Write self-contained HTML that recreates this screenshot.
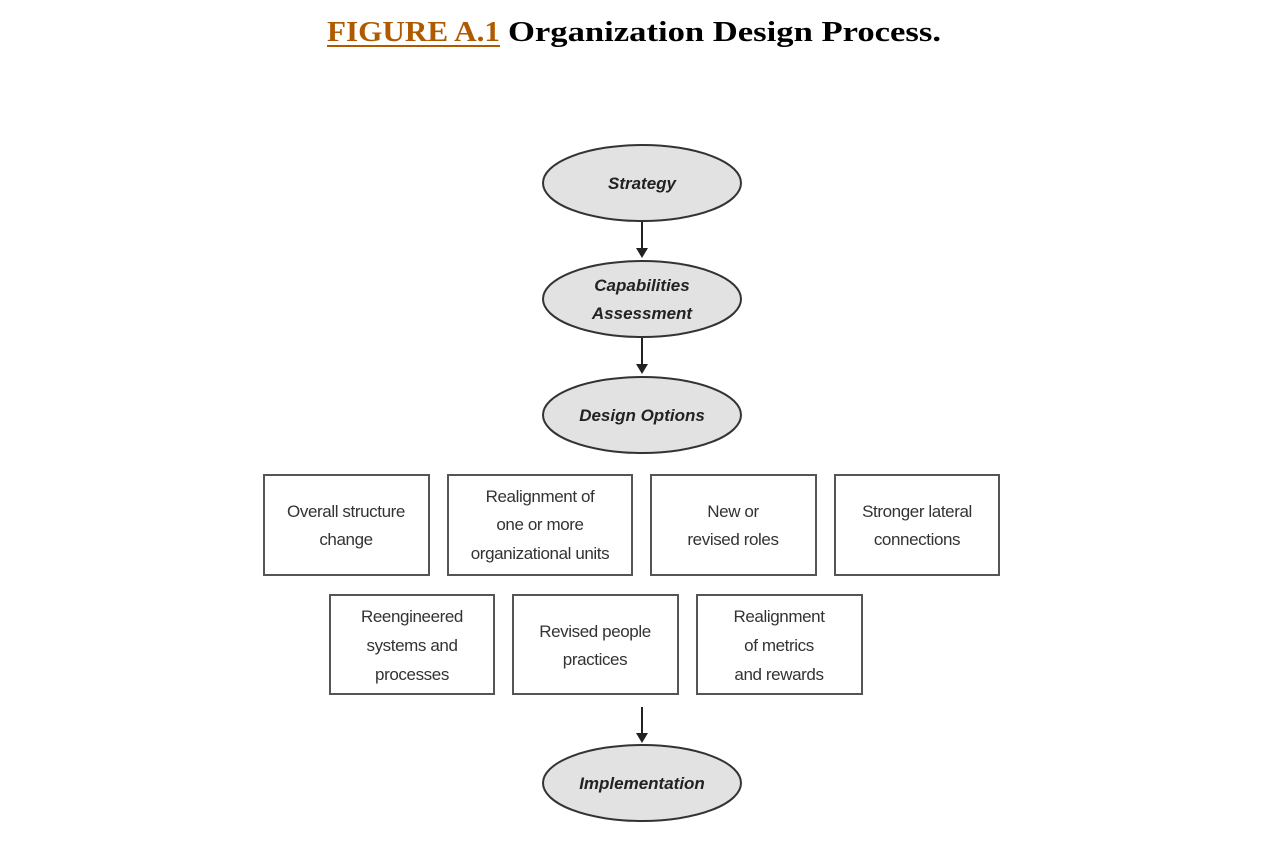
<!DOCTYPE html>
<html><head><style>
body{margin:0;background:#fff;width:1262px;height:840px;overflow:hidden;}
</style></head><body>
<svg width="1262" height="840" xmlns="http://www.w3.org/2000/svg">
<text x="327" y="41" font-family="Liberation Serif, serif" font-weight="bold" font-size="29" fill="#b05a00" textLength="173" lengthAdjust="spacingAndGlyphs">FIGURE A.1</text>
<line x1="327" y1="46" x2="500" y2="46" stroke="#b05a00" stroke-width="2"/>
<text x="508" y="41" font-family="Liberation Serif, serif" font-weight="bold" font-size="29" fill="#000" textLength="433" lengthAdjust="spacingAndGlyphs">Organization Design Process.</text>
<g fill="#e2e2e2" stroke="#333" stroke-width="2">
<ellipse cx="642" cy="183" rx="99" ry="38"/>
<ellipse cx="642" cy="299" rx="99" ry="38"/>
<ellipse cx="642" cy="415" rx="99" ry="38"/>
<ellipse cx="642" cy="783" rx="99" ry="38"/>
</g>
<g font-family="Liberation Sans, sans-serif" font-style="italic" font-weight="bold" font-size="17" fill="#222" text-anchor="middle">
<text x="642" y="189">Strategy</text>
<text x="642" y="291">Capabilities</text>
<text x="642" y="319">Assessment</text>
<text x="642" y="421">Design Options</text>
<text x="642" y="789">Implementation</text>
</g>
<g stroke="#222" stroke-width="2">
<line x1="642" y1="222" x2="642" y2="250"/>
<line x1="642" y1="338" x2="642" y2="366"/>
<line x1="642" y1="707" x2="642" y2="735"/>
</g>
<g fill="#222">
<polygon points="636,248 648,248 642,258"/>
<polygon points="636,364 648,364 642,374"/>
<polygon points="636,733 648,733 642,743"/>
</g>
<g fill="#fff" stroke="#555" stroke-width="2">
<rect x="264" y="475" width="165" height="100"/>
<rect x="448" y="475" width="184" height="100"/>
<rect x="651" y="475" width="165" height="100"/>
<rect x="835" y="475" width="164" height="100"/>
<rect x="330" y="595" width="164" height="99"/>
<rect x="513" y="595" width="165" height="99"/>
<rect x="697" y="595" width="165" height="99"/>
</g>
<g font-family="Liberation Sans, sans-serif" font-size="17" fill="#333" text-anchor="middle" letter-spacing="-0.4">
<text x="346" y="517">Overall structure</text><text x="346" y="545">change</text>
<text x="540" y="502">Realignment of</text><text x="540" y="530">one or more</text><text x="540" y="559">organizational units</text>
<text x="733" y="517">New or</text><text x="733" y="545">revised roles</text>
<text x="917" y="517">Stronger lateral</text><text x="917" y="545">connections</text>
<text x="412" y="622">Reengineered</text><text x="412" y="651">systems and</text><text x="412" y="680">processes</text>
<text x="595" y="637">Revised people</text><text x="595" y="665">practices</text>
<text x="779" y="622">Realignment</text><text x="779" y="651">of metrics</text><text x="779" y="680">and rewards</text>
</g>
</svg>
</body></html>
